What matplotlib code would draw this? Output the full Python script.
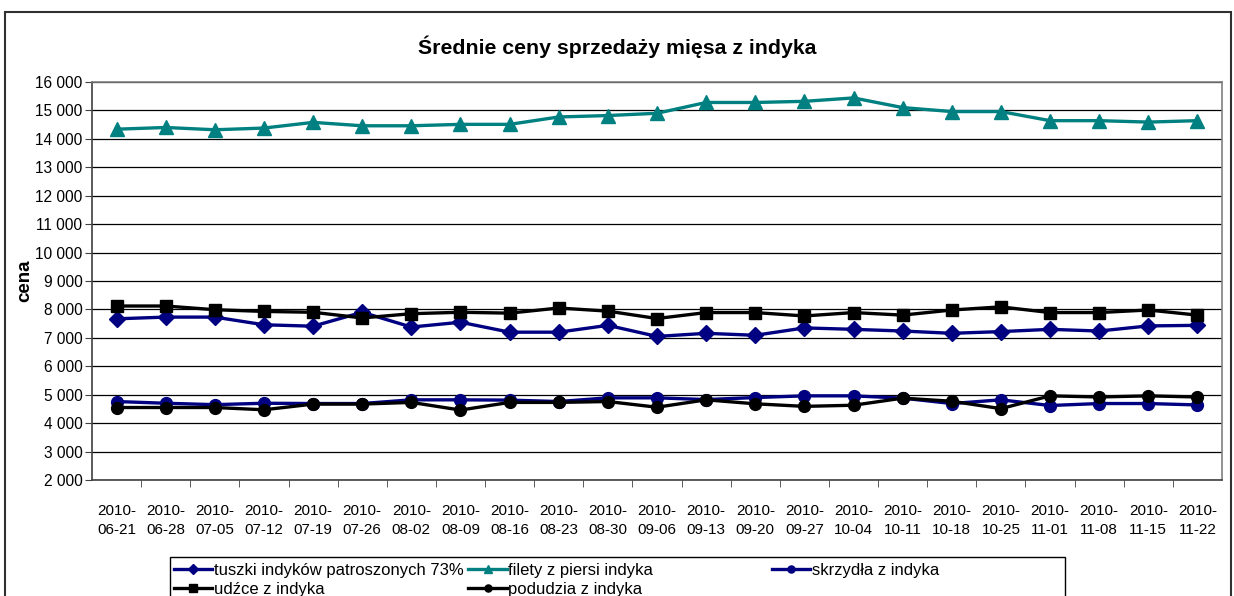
import numpy as np
import matplotlib
matplotlib.use('Agg')
import matplotlib.pyplot as plt
from matplotlib.patches import Rectangle
from matplotlib.ticker import FuncFormatter, MultipleLocator, FixedLocator

plt.rcParams['font.family'] = ['Liberation Sans', 'DejaVu Sans']

dates = ['06-21', '06-28', '07-05', '07-12', '07-19', '07-26', '08-02', '08-09',
         '08-16', '08-23', '08-30', '09-06', '09-13', '09-20', '09-27', '10-04',
         '10-11', '10-18', '10-25', '11-01', '11-08', '11-15', '11-22']
labels = ['2010-\n' + d for d in dates]

tuszki = [7670, 7730, 7730, 7460, 7410, 7900, 7380, 7550, 7200, 7200, 7440, 7050,
          7160, 7090, 7350, 7300, 7240, 7160, 7220, 7300, 7240, 7420, 7440]
filety = [14340, 14400, 14320, 14380, 14580, 14460, 14460, 14510, 14510, 14770, 14820, 14900,
          15280, 15280, 15320, 15440, 15100, 14960, 14960, 14640, 14640, 14590, 14640]
skrzydla = [4760, 4700, 4650, 4700, 4690, 4690, 4820, 4820, 4810, 4760, 4890, 4890,
            4830, 4900, 4960, 4960, 4880, 4690, 4820, 4620, 4690, 4690, 4640]
udzce = [8120, 8120, 7990, 7930, 7900, 7700, 7850, 7900, 7870, 8050, 7940, 7680,
         7890, 7890, 7770, 7890, 7800, 7980, 8090, 7890, 7890, 7980, 7800]
podudzia = [4550, 4550, 4550, 4470, 4670, 4670, 4730, 4460, 4730, 4730, 4760, 4560,
            4820, 4680, 4590, 4630, 4880, 4770, 4510, 4960, 4920, 4960, 4920]

W, H = 1234, 596
fig = plt.figure(figsize=(W / 100, H / 100), dpi=100)
ax = fig.add_axes([92 / W, 1 - 480 / H, (1222 - 92) / W, (480 - 82) / H])

x = np.arange(len(dates))
lw = 2.4
l1, = ax.plot(x, tuszki, color='#000080', lw=lw, marker='D', ms=8, label='tuszki indyków patroszonych 73%')
l2, = ax.plot(x, filety, color='#008080', lw=lw, marker='^', ms=10, label='filety z piersi indyka')
l3, = ax.plot(x, skrzydla, color='#000080', lw=lw, marker='o', ms=8.5, label='skrzydła z indyka')
l4, = ax.plot(x, udzce, color='black', lw=lw, marker='s', ms=9, label='udźce z indyka')
l5, = ax.plot(x, podudzia, color='black', lw=lw, marker='o', ms=8.5, label='podudzia z indyka')

ax.set_xlim(-0.5, len(dates) - 0.5)
ax.set_ylim(2000, 16000)
ax.yaxis.set_major_locator(MultipleLocator(1000))
ax.yaxis.set_major_formatter(FuncFormatter(lambda v, p: f'{int(v):,}'.replace(',', ' ')))
ax.grid(axis='y', color='black', lw=0.9)
ax.set_axisbelow(True)

ax.set_xticks(x)
ax.set_xticklabels(labels, fontsize=11, linespacing=1.5)
ax.tick_params(axis='x', which='major', length=0, pad=17)
ax.xaxis.set_minor_locator(FixedLocator(np.arange(0.5, len(dates) - 0.5, 1)))
ax.tick_params(axis='x', which='minor', length=5, color='#404040', direction='out')
ax.tick_params(axis='y', length=5, color='#404040', labelsize=11.2, pad=2)

for s in ['top', 'right']:
    ax.spines[s].set_color('#808080')
ax.spines['bottom'].set_color('#404040')
ax.spines['left'].set_color('#404040')
for s in ax.spines.values():
    s.set_linewidth(1.2)

ax.set_ylabel('cena', fontsize=13.5, fontweight='bold')
ax.yaxis.set_label_coords(-0.052, 0.5)

fig.text(0.5, 1 - 47 / H, 'Średnie ceny sprzedaży mięsa z indyka', ha='center', va='center',
         fontsize=15.3, fontweight='bold')

# outer chart border
fig.patches.append(Rectangle((5 / W, -0.05), (1231 - 5) / W, 1 - 12 / H + 0.05,
                             transform=fig.transFigure, fill=False, lw=1.5, ec='#303030'))
# legend box
fig.patches.append(Rectangle((170 / W, -0.05), (1065 - 170) / W, 1 - 557 / H + 0.05,
                             transform=fig.transFigure, fill=False, lw=1.0, ec='black'))

leg_kw = dict(frameon=False, fontsize=12, handlelength=2.3, handletextpad=0.1,
              labelspacing=0.25, borderpad=0.1, borderaxespad=0, markerscale=0.6)
leg1 = fig.legend([l1, l4, l2, l5], [l1.get_label(), l4.get_label(), l2.get_label(), l5.get_label()],
                  ncol=2, loc='upper left', bbox_to_anchor=(172 / W, 1 - 561 / H),
                  columnspacing=0.3, **leg_kw)
fig.legend([l3], [l3.get_label()], loc='upper left', bbox_to_anchor=(770 / W, 1 - 561 / H), **leg_kw)

fig.savefig('out.png', dpi=100)
